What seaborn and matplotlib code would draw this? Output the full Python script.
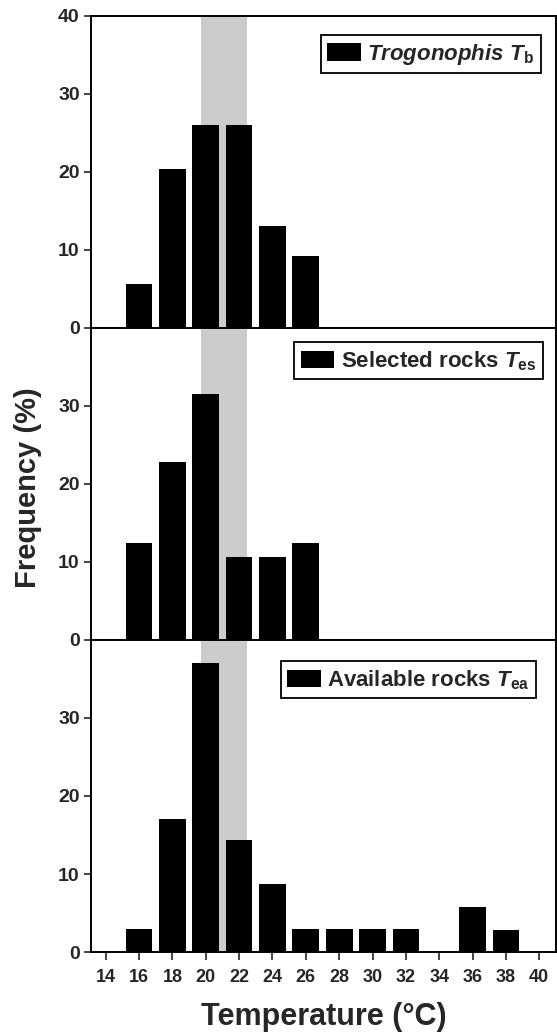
import numpy as np
import pandas as pd
import seaborn as sns
import matplotlib.pyplot as plt
from matplotlib.ticker import FixedLocator

# data (frequency in %)
temps_tb = [16, 18, 20, 22, 24, 26]
freq_tb = [5.6, 20.4, 26.0, 26.0, 13.0, 9.2]

temps_es = [16, 18, 20, 22, 24, 26]
freq_es = [12.4, 22.8, 31.5, 10.6, 10.6, 12.4]

temps_ea = [16, 18, 20, 22, 24, 26, 28, 30, 32, 34, 36, 38]
freq_ea = [2.9, 17.1, 37.1, 14.4, 8.7, 2.9, 2.9, 2.9, 2.9, 0.0, 5.8, 2.8]

labels = ['$Trogonophis\\ T_\\mathrm{b}$',
          'Selected rocks $T_\\mathrm{es}$',
          'Available rocks $T_\\mathrm{ea}$']
xticks = list(range(14, 41, 2))
band = (19.7, 22.5)  # shaded selected range

sns.set_style('ticks')
plt.rcParams['font.family'] = ['Liberation Sans', 'DejaVu Sans']
plt.rcParams['font.weight'] = 'bold'
plt.rcParams['mathtext.fontset'] = 'custom'
plt.rcParams['mathtext.it'] = 'Liberation Sans:italic:bold'
plt.rcParams['mathtext.rm'] = 'Liberation Sans:bold'
plt.rcParams['mathtext.bf'] = 'Liberation Sans:bold'

fig, axes = plt.subplots(3, 1, figsize=(5.57, 10.36), dpi=100, sharex=True)
fig.subplots_adjust(left=0.163, right=0.998, bottom=0.081, top=0.985, hspace=0)

panels = [(temps_tb, freq_tb), (temps_es, freq_es), (temps_ea, freq_ea)]
anchors = [(0.968, 0.938), (0.973, 0.953), (0.958, 0.931)]

for i, (ax, (t, f)) in enumerate(zip(axes, panels)):
    df = pd.DataFrame({'temp': t, 'freq': f})
    ax.axvspan(band[0], band[1], color='#cccccc', lw=0, zorder=0)
    sns.barplot(data=df, x='temp', y='freq', native_scale=True, color='black',
                saturation=1, width=0.8, linewidth=0, label=labels[i], ax=ax, zorder=2)
    ax.set_ylim(0, 40)
    ax.set_xlim(13.1, 41)
    ax.set_xlabel('')
    ax.set_ylabel('')
    if i == 0:
        ax.yaxis.set_major_locator(FixedLocator([0, 10, 20, 30, 40]))
    else:
        ax.yaxis.set_major_locator(FixedLocator([0, 10, 20, 30]))
    for s in ax.spines.values():
        s.set_visible(True)
        s.set_linewidth(1.4)
        s.set_color('black')
    ax.tick_params(axis='y', direction='out', length=5, width=1.2, labelsize=14, pad=3)
    ax.tick_params(axis='x', direction='out', length=6, width=1.2, labelsize=13, pad=6)
    for lab in ax.get_yticklabels():
        lab.set_fontweight('bold')
    leg = ax.legend(loc='upper right', bbox_to_anchor=anchors[i], borderaxespad=0,
                    frameon=True, fancybox=False, edgecolor='black', framealpha=1,
                    prop={'size': 16, 'weight': 'bold'}, handlelength=1.5,
                    handleheight=0.85, handletextpad=0.3, borderpad=0.3)
    leg.get_frame().set_linewidth(1.3)

axes[-1].xaxis.set_major_locator(FixedLocator(xticks))
axes[-1].set_xticklabels([str(v) for v in xticks], fontweight='bold')
axes[-1].set_xlabel('Temperature (°C)', fontsize=22, fontweight='bold', labelpad=12)
for ax in axes[:-1]:
    ax.tick_params(axis='x', bottom=False, labelbottom=False)

fig.text(0.05, 1 - 488 / 1036, 'Frequency (%)', rotation=90, fontsize=21,
         fontweight='bold', ha='center', va='center')

fig.savefig('out.png', dpi=100)
